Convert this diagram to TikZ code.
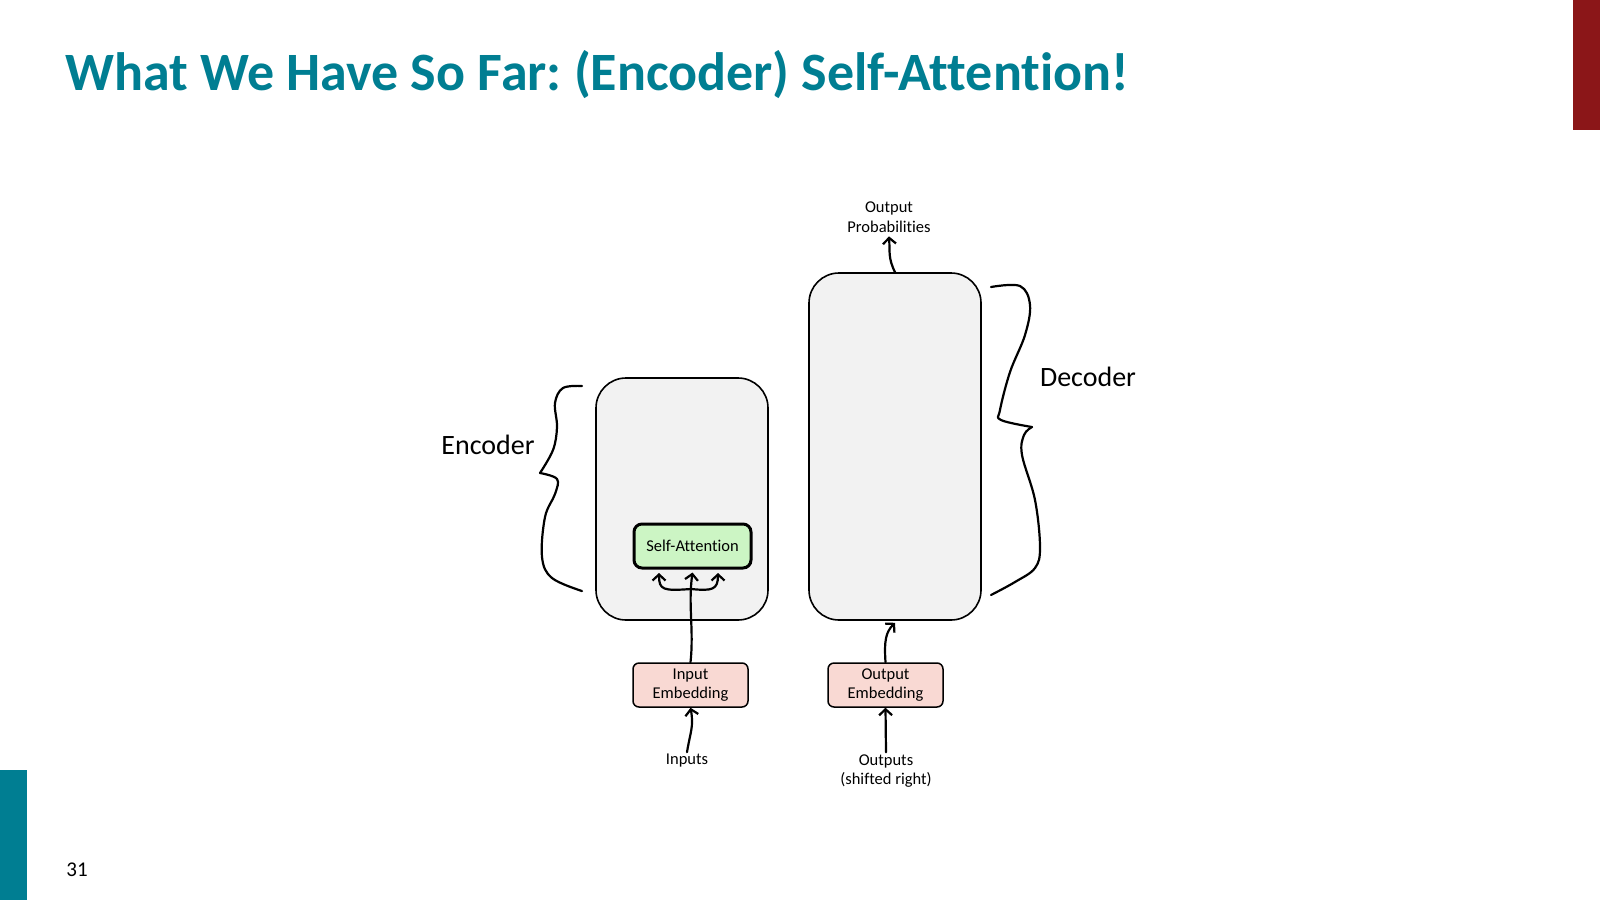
\documentclass[tikz,border=0pt]{standalone}
\usepackage{fontspec}
\setmainfont{Carlito}[Ligatures=NoCommon]
\frenchspacing
\usetikzlibrary{arrows.meta,positioning}
\definecolor{slideteal}{RGB}{0,126,146}
\definecolor{slidered}{RGB}{139,22,24}
\definecolor{blockgray}{RGB}{242,242,242}
\definecolor{attgreen}{RGB}{204,245,196}
\definecolor{embpink}{RGB}{249,217,211}

\begin{document}
\begin{tikzpicture}[
x=1pt,y=-1pt,
block/.style={
  draw,
  line width=1.6pt,
  fill=blockgray,
  rounded corners=30pt,
  minimum width=172pt
},
embed/.style={
  draw,
  line width=1.5pt,
  fill=embpink,
  rounded corners=6pt,
  minimum width=115pt,
  minimum height=44pt,
  inner sep=0pt,
  align=center,
  font=\fontsize{16.5}{19.5}\selectfont
},
attn/.style={
  draw,
  line width=3pt,
  fill=attgreen,
  rounded corners=8pt,
  minimum width=117pt,
  minimum height=44pt,
  font=\fontsize{16.5}{19.5}\selectfont
},
lbl/.style={align=center,inner sep=2pt,font=\fontsize{16.5}{19.5}\selectfont},
big/.style={font=\fontsize{28}{34}\selectfont},
hand/.style={line width=2.2pt,line cap=round,line join=round},
flow/.style={hand,-{Straight Barb[length=6pt,width=13pt]}}
]
\useasboundingbox (0,0) rectangle (1600,900);

% slide frame
\fill[slidered] (1573,0) rectangle (1600,130);
\fill[slideteal] (0,770) rectangle (27,900);
\node[anchor=base west,inner sep=0pt,text=slideteal,font=\fontsize{54}{60}\selectfont\bfseries] 
  (title) at (65,90) {What We Have So Far: (Encoder) Self-Attention!};
\node[font=\fontsize{21}{25}\selectfont] (page) at (77,870) {31};

% blocks
\node[block,minimum height=242pt] (enc) at (682,499) {};
\node[block,minimum height=347pt] (dec) at (895,446.5) {};
\node[attn] (sa) at (692.5,546) {Self-Attention};
\node[embed] (ie) at (690.5,685) {Input\\Embedding};
\node[embed] (oe) at (885.5,685) {Output\\Embedding};

% labels
\node[lbl] (inp) at (687,761) {Inputs};
\node[lbl] (outs) at (886,771) {Outputs\\(shifted right)};
\node[lbl] (prob) at (889,217) {Output\\Probabilities};
\node[big] (enclbl) at (488,445) {Encoder};
\node[big] (declbl) at (1088,377) {Decoder};

% arrows
\coordinate (fork) at (691,589);
\coordinate (saL) at (659,573);
\coordinate (saR) at (718,573);
\draw[flow] (inp.north) .. controls (690,733) and (694,727) .. (ie.south);
\draw[flow] (ie.north) .. controls (694,630) and (688,605) .. ([yshift=-3pt]sa.south);
\draw[flow] (fork) .. controls (663,591) and (659,590) .. (saL);
\draw[flow] (fork) .. controls (712,591) and (718,590) .. (saR);
\draw[flow] (outs.north) -- (oe.south);
\draw[flow] (oe.north) .. controls (884,640) and (886,632) .. ([yshift=-2pt]dec.south);
\draw[flow] (dec.north) .. controls (888,258) and (890,252) .. ([yshift=-2pt]prob.south);

% braces
\draw[hand] plot[smooth,tension=0.6] coordinates {(582,386) (563,388) (555,403) (557,427) (553,450) (540,473)};
\draw[hand] plot[smooth,tension=0.6] coordinates {(540,473) (557,479) (555,494) (545,517) (542,557) (552,578) (582,591)};
\draw[hand] plot[smooth,tension=0.6] coordinates {(991,287) (1020,286) (1030,305) (1025,335) (1010,372) (1000,410) (1001,420) (1032,427)};
\draw[hand] plot[smooth,tension=0.6] coordinates {(1032,427) (1024,435) (1022,455) (1035,500) (1040,547) (1035,568) (1015,582) (991,595)};
\end{tikzpicture}
\end{document}
